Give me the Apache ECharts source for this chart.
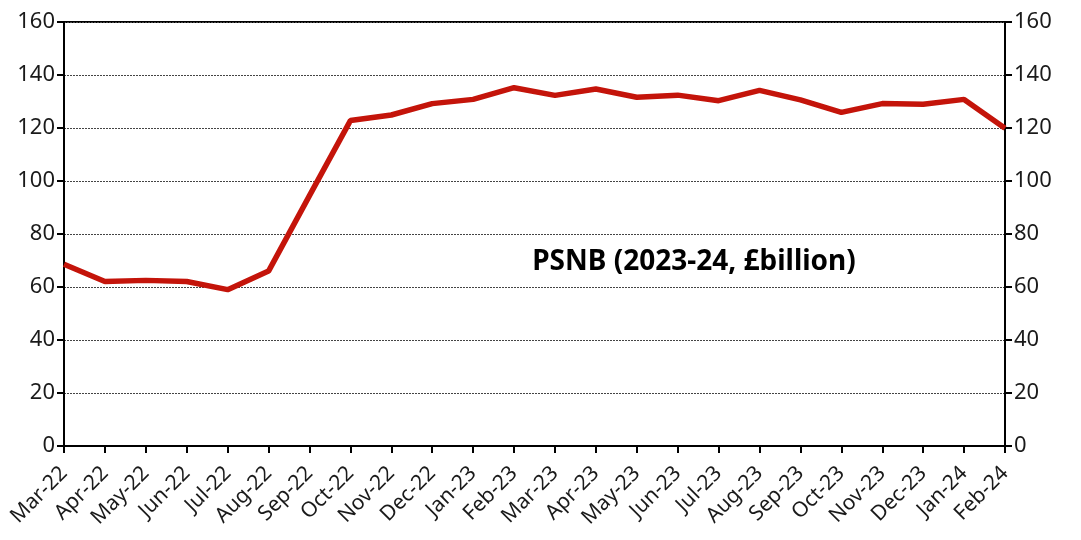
<!DOCTYPE html>
<html><head><meta charset="utf-8">
<script src="https://cdn.jsdelivr.net/npm/echarts@6/dist/echarts.min.js"></script>
<style>html,body{margin:0;padding:0;background:#fff}#c{width:1081px;height:540px}</style>
</head><body><div id="c"></div>
<script>
const categories = ['Mar-22','Apr-22','May-22','Jun-22','Jul-22','Aug-22','Sep-22','Oct-22','Nov-22','Dec-22','Jan-23','Feb-23','Mar-23','Apr-23','May-23','Jun-23','Jul-23','Aug-23','Sep-23','Oct-23','Nov-23','Dec-23','Jan-24','Feb-24'];
const psnb = [68.6,62.1,62.5,62.1,59.0,66.0,94.5,122.8,124.9,129.2,130.8,135.2,132.3,134.7,131.6,132.4,130.3,134.2,130.6,125.9,129.2,129.0,130.8,119.9];
const titleText = 'PSNB (2023-24, £billion)';
const FONT = '"Noto Sans", "Open Sans", sans-serif';
const yAxisCommon = {
  type:'value', min:0, max:160, interval:20,
  axisLine:{show:true, lineStyle:{color:'#000', width:2}},
  axisTick:{show:true, inside:false, length:7, lineStyle:{color:'#000', width:2}},
  axisLabel:{color:'#1a1a1a', fontSize:22, fontFamily:FONT, margin:9}
};
const chart = echarts.init(document.getElementById('c'));
chart.setOption({
  animation:false,
  grid:{left:64, right:76, top:22, bottom:94, show:true, borderColor:'#000', borderWidth:2, backgroundColor:'transparent'},
  title:{text:titleText, left:689, top:243, textAlign:'center',
    textStyle:{fontFamily:FONT, fontSize:28, fontWeight:'bold', color:'#000'}},
  xAxis:{type:'category', data:categories, boundaryGap:false,
    axisLine:{lineStyle:{color:'#000', width:2}},
    axisTick:{show:true, alignWithLabel:true, length:7, lineStyle:{color:'#000', width:2}},
    axisLabel:{rotate:45, interval:0, color:'#1a1a1a', fontSize:21, fontFamily:FONT, margin:24},
    splitLine:{show:false}},
  yAxis:[
    Object.assign({}, yAxisCommon, {position:'left',
      splitLine:{show:true, lineStyle:{color:'#444', width:1, type:[2,1]}}}),
    Object.assign({}, yAxisCommon, {position:'right', splitLine:{show:false}})
  ],
  series:[{type:'line', data:psnb, yAxisIndex:0, symbol:'none',
    lineStyle:{color:'#C4140A', width:5.5}, z:5}]
});
</script></body></html>
